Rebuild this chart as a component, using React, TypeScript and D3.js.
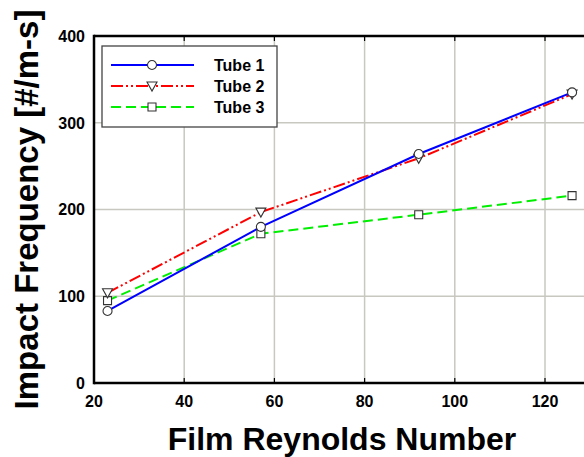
import React, { useEffect, useRef } from 'react';
import * as d3 from 'd3';

// Film Reynolds numbers (x) and impact frequency per tube
const reynolds = [23, 57, 92, 126];
const tube1 = [83, 180, 264, 335];
const tube2 = [104, 197, 259, 333];
const tube3 = [95, 172, 194, 216];

const seriesNames = ['Tube 1', 'Tube 2', 'Tube 3'];
const xTicks = [20, 40, 60, 80, 100, 120];
const yTicks = [0, 100, 200, 300, 400];

export default function App() {
  const ref = useRef<SVGSVGElement>(null);

  useEffect(() => {
    if (!ref.current) return;
    document.body.style.margin = '0';

    const width = 584;
    const height = 457;
    const left = 94;
    const top = 36;
    const bottom = 383;

    const svg = d3.select(ref.current);
    svg.selectAll('*').remove();

    const x = d3.scaleLinear().domain([20, 130]).range([left, left + 110 * 4.51]);
    const y = d3.scaleLinear().domain([0, 400]).range([bottom, top]);

    svg.append('rect').attr('width', width).attr('height', height).attr('fill', '#ffffff');

    const font = 'Liberation Sans, Arial, sans-serif';

    // grid
    const grid = svg.append('g').attr('stroke', '#c8c8c0').attr('stroke-width', 1.5);
    xTicks.slice(1).forEach(t => {
      grid.append('line').attr('x1', x(t)).attr('x2', x(t)).attr('y1', top).attr('y2', bottom);
    });
    yTicks.slice(1, -1).forEach(t => {
      grid.append('line').attr('x1', left).attr('x2', width).attr('y1', y(t)).attr('y2', y(t));
    });

    // inward ticks on top/bottom
    const ticks = svg.append('g').attr('stroke', '#000').attr('stroke-width', 1.2);
    xTicks.slice(1).forEach(t => {
      ticks.append('line').attr('x1', x(t)).attr('x2', x(t)).attr('y1', top).attr('y2', top + 5);
      ticks.append('line').attr('x1', x(t)).attr('x2', x(t)).attr('y1', bottom).attr('y2', bottom - 5);
    });

    // frame
    const frame = svg.append('g').attr('stroke', '#000').attr('stroke-width', 2.5).attr('fill', 'none');
    frame.append('line').attr('x1', left).attr('x2', width).attr('y1', top).attr('y2', top);
    frame.append('line').attr('x1', left).attr('x2', width).attr('y1', bottom).attr('y2', bottom);
    frame.append('line').attr('x1', left).attr('x2', left).attr('y1', top - 1.25).attr('y2', bottom + 1.25);

    // tick labels
    svg.append('g').selectAll('text').data(yTicks).enter().append('text')
      .attr('x', left - 9).attr('y', d => y(d)).attr('dy', '0.36em')
      .attr('text-anchor', 'end').attr('font-family', font).attr('font-weight', 'bold')
      .attr('font-size', 16).attr('fill', '#000').text(d => d);
    svg.append('g').selectAll('text').data(xTicks).enter().append('text')
      .attr('x', d => x(d)).attr('y', 407)
      .attr('text-anchor', 'middle').attr('font-family', font).attr('font-weight', 'bold')
      .attr('font-size', 16).attr('fill', '#000').text(d => d);

    // axis titles
    svg.append('text')
      .attr('x', 342).attr('y', 450).attr('text-anchor', 'middle')
      .attr('font-family', font).attr('font-weight', 'bold').attr('font-size', 32)
      .attr('fill', '#000').text('Film Reynolds Number');
    svg.append('text')
      .attr('transform', `translate(38,${(top + bottom) / 2}) rotate(-90)`)
      .attr('text-anchor', 'middle')
      .attr('font-family', font).attr('font-weight', 'bold').attr('font-size', 33)
      .attr('fill', '#000').text('Impact Frequency [#/m-s]');

    const styles = [
      { values: tube1, color: '#0000ff', dash: null, marker: 'circle' },
      { values: tube2, color: '#ff0000', dash: '12,3,2,3,2,3', marker: 'triangle' },
      { values: tube3, color: '#00ee00', dash: '10,5', marker: 'square' },
    ];

    const drawMarker = (g: any, kind: string, cx: number, cy: number) => {
      const m = g.append('path')
        .attr('fill', '#ffffff').attr('stroke', '#333333').attr('stroke-width', 1.1);
      if (kind === 'circle') {
        m.attr('d', d3.symbol().type(d3.symbolCircle).size(64)()).attr('transform', `translate(${cx},${cy})`);
      } else if (kind === 'square') {
        m.attr('d', 'M-4,-4H4V4H-4Z').attr('transform', `translate(${cx},${cy})`);
      } else {
        m.attr('d', 'M-5,-4L5,-4L0,5Z').attr('transform', `translate(${cx},${cy})`);
      }
    };

    const line = d3.line<number>().x((_, i) => x(reynolds[i])).y(d => y(d));

    // draw series in reverse so Tube 1 is on top
    [...styles].reverse().forEach(s => {
      svg.append('path').datum(s.values).attr('d', line)
        .attr('fill', 'none').attr('stroke', s.color).attr('stroke-width', 2)
        .attr('stroke-dasharray', s.dash);
    });
    [...styles].reverse().forEach(s => {
      s.values.forEach((v, i) => drawMarker(svg, s.marker, x(reynolds[i]), y(v)));
    });

    // legend
    const lg = svg.append('g');
    lg.append('rect').attr('x', 102).attr('y', 46).attr('width', 175).attr('height', 81)
      .attr('fill', '#ffffff').attr('stroke', '#444444').attr('stroke-width', 1.3);
    styles.forEach((s, i) => {
      const ly = 65 + i * 21;
      lg.append('line').attr('x1', 111).attr('x2', 194).attr('y1', ly).attr('y2', ly)
        .attr('stroke', s.color).attr('stroke-width', 2).attr('stroke-dasharray', s.dash);
      drawMarker(lg, s.marker, 152, ly);
      lg.append('text').attr('x', 214).attr('y', ly).attr('dy', '0.36em')
        .attr('font-family', font).attr('font-weight', 'bold').attr('font-size', 16)
        .attr('fill', '#000').text(seriesNames[i]);
    });
  }, []);

  return <svg ref={ref} width={584} height={457} style={{ display: 'block' }} />;
}
